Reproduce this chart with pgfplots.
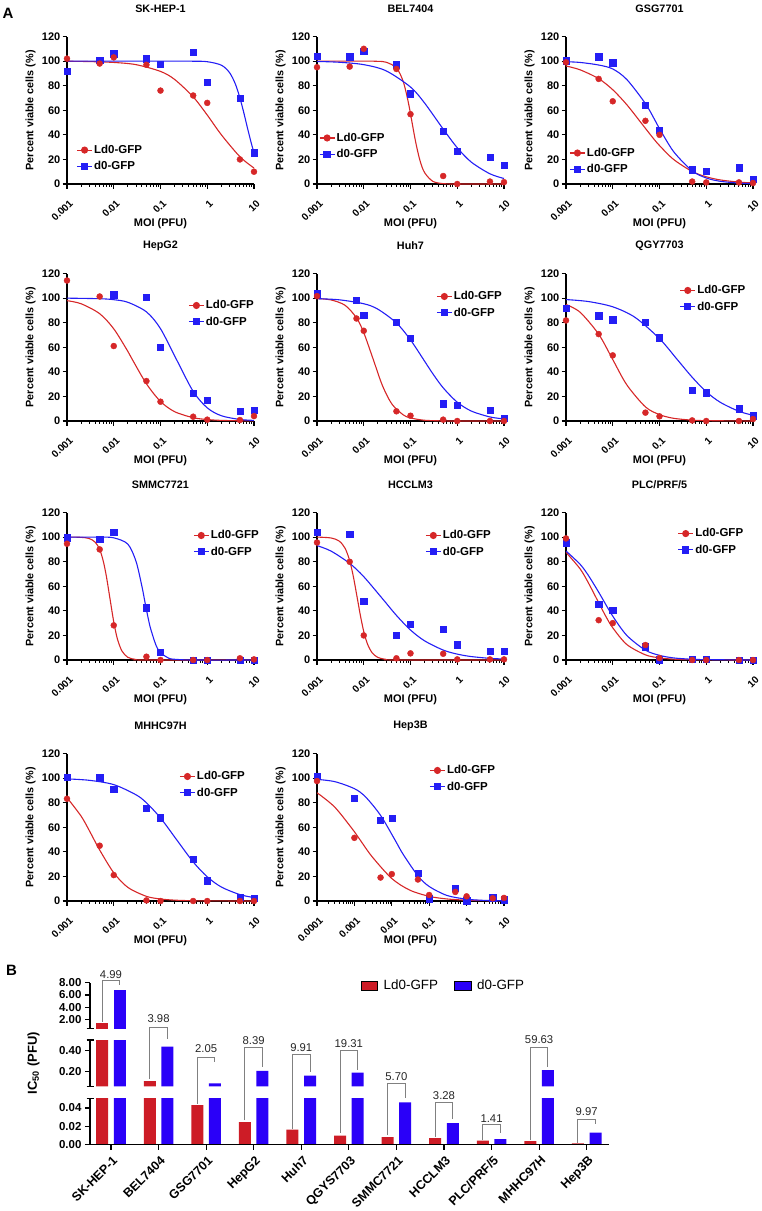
\documentclass[border=0pt]{standalone}
\usepackage{fontspec}
\setmainfont{Liberation Sans}
\usepackage{pgfplots}
\usepackage{pgfplotstable}
\pgfplotsset{compat=1.18}

\definecolor{cr}{RGB}{214,39,40}
\definecolor{cb}{RGB}{36,30,245}
\definecolor{br}{RGB}{205,28,38}
\definecolor{bb}{RGB}{42,0,248}

\pgfplotstableread{
idx ld d
0 1.36 6.80
1 0.110 0.438
2 0.0430 0.0882
3 0.0245 0.2056
4 0.0162 0.1605
5 0.0098 0.1892
6 0.0081 0.0462
7 0.0071 0.0233
8 0.0042 0.0059
9 0.0036 0.2147
10 0.0013 0.0130
}\ictable

\newcommand{\cellaxis}[1]{\begin{axis}[xmode=log, scale only axis, width=187pt, height=147.5pt,
  xmin=0.001, xmax=10, ymin=0, ymax=120,
  ytick={0,20,40,60,80,100,120},
  xtick={0.001,0.01,0.1,1,10}, xticklabels={0.001,0.01,0.1,1,10},
  minor xtick={0.002,0.003,0.004,0.005,0.006,0.007,0.008,0.009,0.02,0.03,0.04,0.05,0.06,0.07,0.08,0.09,0.2,0.3,0.4,0.5,0.6,0.7,0.8,0.9,2,3,4,5,6,7,8,9},
  axis x line*=bottom, axis y line*=left,
  axis line style={line width=1.3pt, black},
  tick align=outside, major tick length=4.5pt, minor tick length=2.5pt,
  major tick style={line width=1.1pt, black}, minor tick style={line width=0.9pt, black},
  yticklabel style={font=\bfseries\fontsize{11}{12}\selectfont, inner sep=2pt},
  yticklabel={\pgfmathprintnumber[assume math mode=true]{\tick}},
  xticklabel style={font=\bfseries\fontsize{10}{11}\selectfont, xshift=1.5pt, yshift=-9pt, rotate=45, anchor=north east, inner sep=1pt},
  xlabel={MOI (PFU)}, ylabel={Percent viable cells (\%)},
  xlabel style={font=\bfseries\fontsize{11}{12}\selectfont, at={(axis description cs:0.5,0)}, anchor=center, yshift=-40pt},
  ylabel style={font=\bfseries\fontsize{10.8}{12}\selectfont, at={(axis description cs:-0.195,0.5)}, anchor=center},
  title style={font=\bfseries\fontsize{10.8}{12}\selectfont, at={(axis description cs:0.5,1)}, anchor=center, yshift=21.5pt},
  clip=false,
  legend style={anchor=north west, draw=none, fill=none, font=\bfseries\fontsize{11.5}{13}\selectfont, inner sep=0pt, row sep=3.5pt, cells={anchor=west}, nodes={inner sep=1.5pt}},
  legend image code/.code={\draw[mark repeat=2,mark phase=2,##1] plot coordinates {(0pt,0pt) (7.5pt,0pt) (15pt,0pt)};},
  #1]}

\newcommand{\leg}{%
 \addlegendimage{cr, line width=1.1pt, mark=*, mark size=3pt, mark options={fill=cr}}
 \addlegendentry{Ld0-GFP}
 \addlegendimage{cb, line width=1.1pt, mark=square*, mark size=3.1pt, mark options={fill=cb}}
 \addlegendentry{d0-GFP}}

\begin{document}
\begin{tikzpicture}
\useasboundingbox (0,0) rectangle (762pt,-1211pt);
\node[font=\bfseries\fontsize{15}{18}\selectfont] at (8pt,-13pt) {A};
\node[font=\bfseries\fontsize{15}{18}\selectfont] at (11.5pt,-970pt) {B};

% ---------- Row 1
\cellaxis{title={SK-HEP-1}, legend style={at={(0.05,0.275)}}, at={(67pt,-184pt)}, anchor=south west}
\addplot[forget plot, no markers, smooth, cr, line width=1.1pt] coordinates {(0.001,99.9)(0.003,99.6)(0.01,98.9)(0.03,97.1)(0.1,91.6)(0.2,85.1)(0.5,70.9)(1,56.1)(2,40.1)(5,22.2)(10,13)};
\addplot[forget plot, no markers, smooth, cb, line width=1.1pt] coordinates {(0.001,100)(0.01,100)(0.1,100)(0.5,99.9)(1,99.5)(2,96.7)(3,90.6)(4,81.3)(5,70)(6,58.6)(7,48)(8,39)(9,31.5)(10,25.5)};
\addplot[forget plot, only marks, mark=square*, mark size=3.1pt, cb] coordinates {(0.001,92)(0.005,101)(0.01,106)(0.05,102)(0.1,97.5)(0.5,107)(1,82.5)(5,70)(10,25.5)};
\addplot[forget plot, only marks, mark=*, mark size=3pt, cr] coordinates {(0.001,102)(0.005,98)(0.01,103)(0.05,97)(0.1,76)(0.5,72)(1,66)(5,20)(10,10)};
\leg
\end{axis}

\cellaxis{title={BEL7404}, legend style={at={(0.01,0.357)}}, at={(317pt,-184pt)}, anchor=south west}
\addplot[forget plot, no markers, smooth, cr, line width=1.1pt] coordinates {(0.001,100)(0.01,100)(0.02,99.8)(0.03,99.1)(0.05,94.5)(0.07,83.3)(0.09,66.3)(0.108,50)(0.13,33.5)(0.16,18.9)(0.2,9.3)(0.3,2.2)(0.5,0.3)(1,0)(10,0)};
\addplot[forget plot, no markers, smooth, cb, line width=1.1pt] coordinates {(0.001,99.7)(0.003,99.05)(0.01,97.1)(0.03,92.1)(0.1,78.9)(0.2,65.9)(0.5,44.7)(1,29.5)(2,17.8)(5,8.3)(10,4.5)};
\addplot[forget plot, only marks, mark=square*, mark size=3.1pt, cb] coordinates {(0.001,104)(0.005,103.6)(0.01,108)(0.05,97)(0.1,73.5)(0.5,42.8)(1,26.6)(5,21.8)(10,15.6)};
\addplot[forget plot, only marks, mark=*, mark size=3pt, cr] coordinates {(0.001,95)(0.005,95.5)(0.01,110)(0.05,93.6)(0.1,56.8)(0.5,6.5)(1,0)(5,2)(10,1.5)};
\leg
\end{axis}

\cellaxis{title={GSG7701}, legend style={at={(0.017,0.255)}}, at={(566pt,-184pt)}, anchor=south west}
\addplot[forget plot, no markers, smooth, cr, line width=1.1pt] coordinates {(0.001,96)(0.002,92.9)(0.005,85.7)(0.01,76.7)(0.02,64.5)(0.04,50)(0.07,38.2)(0.1,31.3)(0.2,20)(0.5,10.2)(1,5.9)(2,3.3)(5,1.55)(10,0.86)};
\addplot[forget plot, no markers, smooth, cb, line width=1.1pt] coordinates {(0.001,99.5)(0.002,98.9)(0.005,96.8)(0.01,93.6)(0.02,85)(0.05,65.4)(0.085,50)(0.1,45.1)(0.2,26.4)(0.5,10.7)(1,4.9)(2,2.2)(5,0.75)(10,0.33)};
\addplot[forget plot, only marks, mark=square*, mark size=3.1pt, cb] coordinates {(0.001,100.3)(0.005,103.6)(0.01,98.7)(0.05,64)(0.1,43.8)(0.5,11.6)(1,10.2)(5,13.2)(10,4)};
\addplot[forget plot, only marks, mark=*, mark size=3pt, cr] coordinates {(0.001,99)(0.005,85.5)(0.01,67.3)(0.05,51.4)(0.1,40)(0.5,2)(1,1.3)(5,1.3)(10,0.8)};
\leg
\end{axis}

% ---------- Row 2
\cellaxis{title={HepG2}, legend style={at={(0.648,0.828)}}, at={(67pt,-421pt)}, anchor=south west}
\addplot[forget plot, no markers, smooth, cr, line width=1.1pt] coordinates {(0.001,97.9)(0.002,95.4)(0.005,87.3)(0.01,75)(0.02,56.7)(0.025,50)(0.05,30.3)(0.1,15.9)(0.2,7.6)(0.5,2.7)(1,1.2)(2,0.5)(5,0.2)(10,0.1)};
\addplot[forget plot, no markers, smooth, cb, line width=1.1pt] coordinates {(0.001,99.95)(0.005,99.5)(0.01,98.7)(0.02,96.6)(0.05,88.8)(0.1,75.1)(0.22,50)(0.5,24.1)(1,10.7)(2,4.3)(5,1.25)(10,0.5)};
\addplot[forget plot, only marks, mark=square*, mark size=3.1pt, cb] coordinates {(0.01,102.7)(0.05,101)(0.1,60)(0.5,22.5)(1,17)(5,8)(10,8.7)};
\addplot[forget plot, only marks, mark=*, mark size=3pt, cr] coordinates {(0.001,114.3)(0.005,101.3)(0.01,61)(0.05,32.5)(0.1,15.7)(0.5,3.5)(1,1.1)(5,0.8)(10,4)};
\leg
\end{axis}

\cellaxis{title={Huh7}, legend style={at={(0.637,0.889)}}, at={(317pt,-421pt)}, anchor=south west}
\addplot[forget plot, no markers, smooth, cr, line width=1.1pt] coordinates {(0.001,99.6)(0.002,98.5)(0.004,94.1)(0.007,83.9)(0.01,71.9)(0.016,50)(0.025,29)(0.04,13.8)(0.07,5)(0.1,2.5)(0.2,0.6)(0.5,0.1)(1,0)(10,0)};
\addplot[forget plot, no markers, smooth, cb, line width=1.1pt] coordinates {(0.001,99.55)(0.003,98.6)(0.01,95.4)(0.02,91)(0.05,79.8)(0.1,66)(0.19,50)(0.3,38.5)(0.5,27)(1,15.3)(2,8.1)(5,3.3)(10,1.7)};
\addplot[forget plot, only marks, mark=square*, mark size=3.1pt, cb] coordinates {(0.001,103.5)(0.007,98.4)(0.01,86.4)(0.05,80.5)(0.1,67.5)(0.5,14.1)(1,13)(5,8.9)(10,2.2)};
\addplot[forget plot, only marks, mark=*, mark size=3pt, cr] coordinates {(0.001,101.6)(0.007,83.4)(0.01,73.4)(0.05,7.9)(0.1,4.3)(0.5,1.1)(1,0)(5,0)(10,0)};
\leg
\end{axis}

\cellaxis{title={QGY7703}, legend style={at={(0.607,0.93)}}, at={(566pt,-421pt)}, anchor=south west}
\addplot[forget plot, no markers, smooth, cr, line width=1.1pt] coordinates {(0.001,94.8)(0.002,88.5)(0.005,70.6)(0.01,50)(0.02,29.4)(0.05,11.5)(0.1,5.2)(0.2,2.2)(0.5,0.7)(1,0.3)(10,0)};
\addplot[forget plot, no markers, smooth, cb, line width=1.1pt] coordinates {(0.001,98.8)(0.003,97.2)(0.01,92.9)(0.03,84.3)(0.1,67)(0.24,50)(0.5,35.6)(1,23.8)(2,15.2)(5,7.9)(10,4.65)};
\addplot[forget plot, only marks, mark=square*, mark size=3.1pt, cb] coordinates {(0.001,91.6)(0.005,85.6)(0.01,82.4)(0.05,80.2)(0.1,67.8)(0.5,25.2)(1,23)(5,10)(10,4.3)};
\addplot[forget plot, only marks, mark=*, mark size=3pt, cr] coordinates {(0.001,81.8)(0.005,70.7)(0.01,53.4)(0.05,6.8)(0.1,3.8)(0.5,0.5)(1,0)(5,0)(10,1.6)};
\leg
\end{axis}

% ---------- Row 3
\cellaxis{title={SMMC7721}, legend style={at={(0.674,0.889)}}, at={(67pt,-660pt)}, anchor=south west}
\addplot[forget plot, no markers, smooth, cr, line width=1.1pt] coordinates {(0.001,100)(0.002,99.8)(0.003,98.8)(0.004,95.9)(0.005,90)(0.006,80.1)(0.007,67.5)(0.0083,50)(0.01,31)(0.012,17)(0.015,7.3)(0.02,2.2)(0.03,0.4)(0.05,0)(10,0)};
\addplot[forget plot, no markers, smooth, cb, line width=1.1pt] coordinates {(0.001,100)(0.005,99.95)(0.01,99.4)(0.02,94.3)(0.03,80.2)(0.04,60)(0.045,50)(0.05,41)(0.06,27)(0.08,12.1)(0.1,6)(0.15,1.5)(0.2,0.6)(0.5,0)(10,0)};
\addplot[forget plot, only marks, mark=square*, mark size=3.1pt, cb] coordinates {(0.001,99.5)(0.005,98)(0.01,104.3)(0.05,42.5)(0.1,6.2)(0.5,0)(1,0)(5,0)(10,0)};
\addplot[forget plot, only marks, mark=*, mark size=3pt, cr] coordinates {(0.001,94.6)(0.005,90)(0.01,28.2)(0.05,2.7)(0.1,0)(0.5,0)(1,0)(5,1.4)(10,0.5)};
\leg
\end{axis}

\cellaxis{title={HCCLM3}, legend style={at={(0.578,0.889)}}, at={(317pt,-660pt)}, anchor=south west}
\addplot[forget plot, no markers, smooth, cr, line width=1.1pt] coordinates {(0.001,100)(0.002,99.3)(0.003,96.7)(0.004,90.8)(0.005,80.8)(0.006,67.8)(0.0073,50)(0.0085,36)(0.01,23.2)(0.012,13.1)(0.015,6.1)(0.02,2.1)(0.03,0.5)(0.05,0)(10,0)};
\addplot[forget plot, no markers, smooth, cb, line width=1.1pt] coordinates {(0.001,93.1)(0.002,88.6)(0.005,78.6)(0.01,67.8)(0.025,50)(0.05,36.3)(0.1,24.4)(0.2,15.6)(0.5,8.1)(1,4.8)(2,2.8)(5,1.35)(10,0.8)};
\addplot[forget plot, only marks, mark=square*, mark size=3.1pt, cb] coordinates {(0.001,104.3)(0.005,102.4)(0.01,48)(0.05,20.3)(0.1,29.3)(0.5,25)(1,12.5)(5,7)(10,7.3)};
\addplot[forget plot, only marks, mark=*, mark size=3pt, cr] coordinates {(0.001,95.6)(0.005,79.9)(0.01,20)(0.05,1.4)(0.1,5.4)(0.5,5.1)(1,0.5)(5,0.5)(10,0.5)};
\leg
\end{axis}

\cellaxis{title={PLC/PRF/5}, legend style={at={(0.596,0.902)}}, at={(566pt,-660pt)}, anchor=south west}
\addplot[forget plot, no markers, smooth, cr, line width=1.1pt] coordinates {(0.001,87.6)(0.002,74.2)(0.003,62.9)(0.0045,50)(0.007,36)(0.01,26.2)(0.02,12.6)(0.05,4.2)(0.1,1.75)(0.2,0.7)(0.5,0.2)(1,0.1)(10,0)};
\addplot[forget plot, no markers, smooth, cb, line width=1.1pt] coordinates {(0.001,88.7)(0.002,77.9)(0.003,68.9)(0.005,55.2)(0.006,50)(0.01,35.7)(0.02,20)(0.05,8)(0.1,3.8)(0.2,1.7)(0.5,0.6)(1,0.3)(10,0)};
\addplot[forget plot, only marks, mark=square*, mark size=3.1pt, cb] coordinates {(0.001,95.4)(0.005,45.1)(0.01,40.8)(0.05,10.8)(0.1,0.3)(0.5,0.5)(1,0.5)(5,0)(10,0)};
\addplot[forget plot, only marks, mark=*, mark size=3pt, cr] coordinates {(0.001,98.9)(0.005,32.4)(0.01,30)(0.05,12.2)(0.1,1.6)(0.5,0)(1,0)(5,0)(10,0)};
\leg
\end{axis}

% ---------- Row 4
\cellaxis{title={MHHC97H}, legend style={at={(0.60,0.889)}}, at={(67pt,-901pt)}, anchor=south west}
\addplot[forget plot, no markers, smooth, cr, line width=1.1pt] coordinates {(0.001,84.1)(0.002,69.1)(0.003,57.3)(0.005,41.5)(0.01,23)(0.02,11.1)(0.05,3.8)(0.1,1.65)(0.2,0.7)(0.5,0.2)(1,0.1)(10,0)};
\addplot[forget plot, no markers, smooth, cb, line width=1.1pt] coordinates {(0.001,99.35)(0.003,98.2)(0.01,94.7)(0.03,86.4)(0.05,79.9)(0.1,67.6)(0.22,50)(0.5,31.8)(1,19.7)(2,11.4)(5,5.2)(10,2.8)};
\addplot[forget plot, only marks, mark=square*, mark size=3.1pt, cb] coordinates {(0.001,101)(0.005,100.3)(0.01,90.8)(0.05,75.3)(0.1,67.8)(0.5,34.1)(1,16.5)(5,3.3)(10,2.2)};
\addplot[forget plot, only marks, mark=*, mark size=3pt, cr] coordinates {(0.001,83.2)(0.005,45)(0.01,21.1)(0.05,0.5)(0.1,0)(0.5,0)(1,0)(5,0)(10,0)};
\leg
\end{axis}

\cellaxis{title={Hep3B}, legend style={at={(0.60,0.93)}},
  xmin=0.0001, xtick={0.0001,0.001,0.01,0.1,1,10}, xticklabels={0.0001,0.001,0.01,0.1,1,10},
  minor xtick={0.0002,0.0003,0.0004,0.0005,0.0006,0.0007,0.0008,0.0009,0.002,0.003,0.004,0.005,0.006,0.007,0.008,0.009,0.02,0.03,0.04,0.05,0.06,0.07,0.08,0.09,0.2,0.3,0.4,0.5,0.6,0.7,0.8,0.9,2,3,4,5,6,7,8,9},
  at={(317pt,-901pt)}, anchor=south west}
\addplot[forget plot, no markers, smooth, cr, line width=1.1pt] coordinates {(0.0001,88.1)(0.0003,76.3)(0.001,56.4)(0.0014,50)(0.003,35.9)(0.01,18.3)(0.03,8.9)(0.1,3.8)(0.3,1.66)(1,0.67)(3,0.29)(10,0.12)};
\addplot[forget plot, no markers, smooth, cb, line width=1.1pt] coordinates {(0.0001,98.95)(0.0003,97.1)(0.001,91.4)(0.002,84.6)(0.005,69.7)(0.012,50)(0.02,38.1)(0.05,20.5)(0.1,11.8)(0.3,4.5)(1,1.5)(3,0.5)(10,0.17)};
\addplot[forget plot, only marks, mark=square*, mark size=3.1pt, cb] coordinates {(0.0001,101.7)(0.001,83.9)(0.005,65.6)(0.01,67.2)(0.05,22.4)(0.1,1.9)(0.5,10.1)(1,0.3)(5,2.7)(10,1.1)};
\addplot[forget plot, only marks, mark=*, mark size=3pt, cr] coordinates {(0.0001,97.6)(0.001,51.4)(0.005,19.1)(0.01,21.9)(0.05,17.5)(0.1,4.9)(0.5,7.4)(1,3.8)(5,2.2)(10,2.5)};
\leg
\end{axis}

% ---------- Panel B
\begin{axis}[scale only axis, width=519.3pt, height=45.7pt, xmin=-0.441, xmax=10.475, ymin=0, ymax=0.05,
  scaled y ticks=false,
  axis y line*=left, axis x line*=bottom, axis line style={line width=1.3pt, black},
  tick align=outside, major tick length=5pt, major tick style={line width=1.1pt, black}, axis on top,
  ytick={0,0.02,0.04}, yticklabels={0.00,0.02,0.04},
  yticklabel style={font=\bfseries\fontsize{11.5}{12}\selectfont},
  xtick={0,1,2,3,4,5,6,7,8,9,10},
  xticklabels={SK-HEP-1,BEL7404,GSG7701,HepG2,Huh7,QGYS7703,SMMC7721,HCCLM3,PLC/PRF/5,MHHC97H,Hep3B},
  xticklabel style={font=\bfseries\fontsize{12.5}{13}\selectfont, xshift=1pt, yshift=-4pt, rotate=45, anchor=north east, inner sep=1pt},
  at={(90pt,-1144.5pt)}, anchor=south west]
\addplot[forget plot, ybar, bar width=12pt, bar shift=-8.8pt, fill=br, draw=none] table[x=idx,y=ld]{\ictable};
\addplot[forget plot, ybar, bar width=12pt, bar shift=8.8pt, fill=bb, draw=none] table[x=idx,y=d]{\ictable};
\end{axis}

\begin{axis}[scale only axis, width=519.3pt, height=46.3pt, xmin=-0.441, xmax=10.475, ymin=0.06, ymax=0.5,
  scaled y ticks=false,
  axis y line*=left, axis x line=none, axis line style={line width=1.3pt, black},
  tick align=outside, major tick length=5pt, major tick style={line width=1.1pt, black}, axis on top,
  ytick={0.2,0.4}, yticklabels={0.20,0.40},
  yticklabel style={font=\bfseries\fontsize{11.5}{12}\selectfont},
  ylabel={IC\textsubscript{50} (PFU)},
  ylabel style={font=\bfseries\fontsize{13}{14}\selectfont, at={(axis description cs:-0.109,0.5)}, anchor=center},
  at={(90pt,-1086.3pt)}, anchor=south west]
\addplot[forget plot, ybar, bar width=12pt, bar shift=-8.8pt, fill=br, draw=none, restrict y to domain=0.061:100] table[x=idx,y=ld]{\ictable};
\addplot[forget plot, ybar, bar width=12pt, bar shift=8.8pt, fill=bb, draw=none, restrict y to domain=0.061:100] table[x=idx,y=d]{\ictable};
\end{axis}

\begin{axis}[scale only axis, width=519.3pt, height=46pt, xmin=-0.441, xmax=10.475, ymin=0.5, ymax=8,
  axis y line*=left, axis x line=none, axis line style={line width=1.3pt, black},
  tick align=outside, major tick length=5pt, major tick style={line width=1.1pt, black}, axis on top,
  ytick={2,4,6,8}, yticklabels={2.00,4.00,6.00,8.00},
  yticklabel style={font=\bfseries\fontsize{11.5}{12}\selectfont},
  legend columns=2,
  legend style={at={(axis description cs:0.515,0.94)}, anchor=west, draw=none, fill=none,
    font=\fontsize{13.4}{15}\selectfont,
    /tikz/every odd column/.append style={column sep=4pt},
    /tikz/every even column/.append style={column sep=14pt}},
  legend image code/.code={\fill[#1] (0pt,-4.4pt) rectangle (16.7pt,4.4pt);},
  at={(90pt,-1028.7pt)}, anchor=south west]
\addplot[forget plot, ybar, bar width=12pt, bar shift=-8.8pt, fill=br, draw=none, restrict y to domain=0.51:100] table[x=idx,y=ld]{\ictable};
\addplot[forget plot, ybar, bar width=12pt, bar shift=8.8pt, fill=bb, draw=none, restrict y to domain=0.51:100] table[x=idx,y=d]{\ictable};
\addlegendimage{fill=br}
\addlegendentry{Ld0-GFP}
\addlegendimage{fill=bb}
\addlegendentry{d0-GFP}
\end{axis}

% overlay for brackets and axis breaks
\begin{axis}[scale only axis, width=519.3pt, height=162pt,
  xmin=-0.441, xmax=10.475, ymin=0, ymax=162, hide axis, clip=false,
  at={(90pt,-1144.5pt)}, anchor=south west]
\draw[black!50, line width=1pt] (axis cs:-0.185,122.7) |- (axis cs:0.185,163.7) -- (axis cs:0.185,159.3);
\draw[black!50, line width=1pt] (axis cs:0.815,66) |- (axis cs:1.185,117) -- (axis cs:1.185,106);
\draw[black!50, line width=1pt] (axis cs:1.815,41) |- (axis cs:2.185,87.3) -- (axis cs:2.185,82.7);
\draw[black!50, line width=1pt] (axis cs:2.815,24.3) |- (axis cs:3.185,96.7) -- (axis cs:3.185,77.7);
\draw[black!50, line width=1pt] (axis cs:3.815,16) |- (axis cs:4.185,90) -- (axis cs:4.185,72.7);
\draw[black!50, line width=1pt] (axis cs:4.815,11.8) |- (axis cs:5.185,93.8) -- (axis cs:5.185,74.5);
\draw[black!50, line width=1pt] (axis cs:5.815,9.5) |- (axis cs:6.185,61.2) -- (axis cs:6.185,46.2);
\draw[black!50, line width=1pt] (axis cs:6.815,7.8) |- (axis cs:7.185,42.2) -- (axis cs:7.185,25.2);
\draw[black!50, line width=1pt] (axis cs:7.815,4.5) |- (axis cs:8.185,20.2) -- (axis cs:8.185,11.2);
\draw[black!50, line width=1pt] (axis cs:8.815,4.5) |- (axis cs:9.185,96.8) -- (axis cs:9.185,77.8);
\draw[black!50, line width=1pt] (axis cs:9.815,1.8) |- (axis cs:10.185,25.2) -- (axis cs:10.185,20.5);
\node[font=\fontsize{11.3}{12}\selectfont, text=black!85] at (axis cs:0,169.5) {4.99};
\node[font=\fontsize{11.3}{12}\selectfont, text=black!85] at (axis cs:1,126.3) {3.98};
\node[font=\fontsize{11.3}{12}\selectfont, text=black!85] at (axis cs:2,96) {2.05};
\node[font=\fontsize{11.3}{12}\selectfont, text=black!85] at (axis cs:3,103.7) {8.39};
\node[font=\fontsize{11.3}{12}\selectfont, text=black!85] at (axis cs:4,97) {9.91};
\node[font=\fontsize{11.3}{12}\selectfont, text=black!85] at (axis cs:5,100.5) {19.31};
\node[font=\fontsize{11.3}{12}\selectfont, text=black!85] at (axis cs:6,67.8) {5.70};
\node[font=\fontsize{11.3}{12}\selectfont, text=black!85] at (axis cs:7,48.8) {3.28};
\node[font=\fontsize{11.3}{12}\selectfont, text=black!85] at (axis cs:8,26.2) {1.41};
\node[font=\fontsize{11.3}{12}\selectfont, text=black!85] at (axis cs:9,104.5) {59.63};
\node[font=\fontsize{11.3}{12}\selectfont, text=black!85] at (axis cs:10,32.8) {9.97};
\draw[line width=1.2pt] ([xshift=-3.5pt]axis cs:-0.441,45.7) -- ([xshift=3.5pt]axis cs:-0.441,45.7);
\draw[line width=1.2pt] ([xshift=-3.5pt]axis cs:-0.441,58.2) -- ([xshift=3.5pt]axis cs:-0.441,58.2);
\draw[line width=1.2pt] ([xshift=-3.5pt]axis cs:-0.441,104.5) -- ([xshift=3.5pt]axis cs:-0.441,104.5);
\draw[line width=1.2pt] ([xshift=-3.5pt]axis cs:-0.441,115.8) -- ([xshift=3.5pt]axis cs:-0.441,115.8);
\end{axis}
\end{tikzpicture}
\end{document}
